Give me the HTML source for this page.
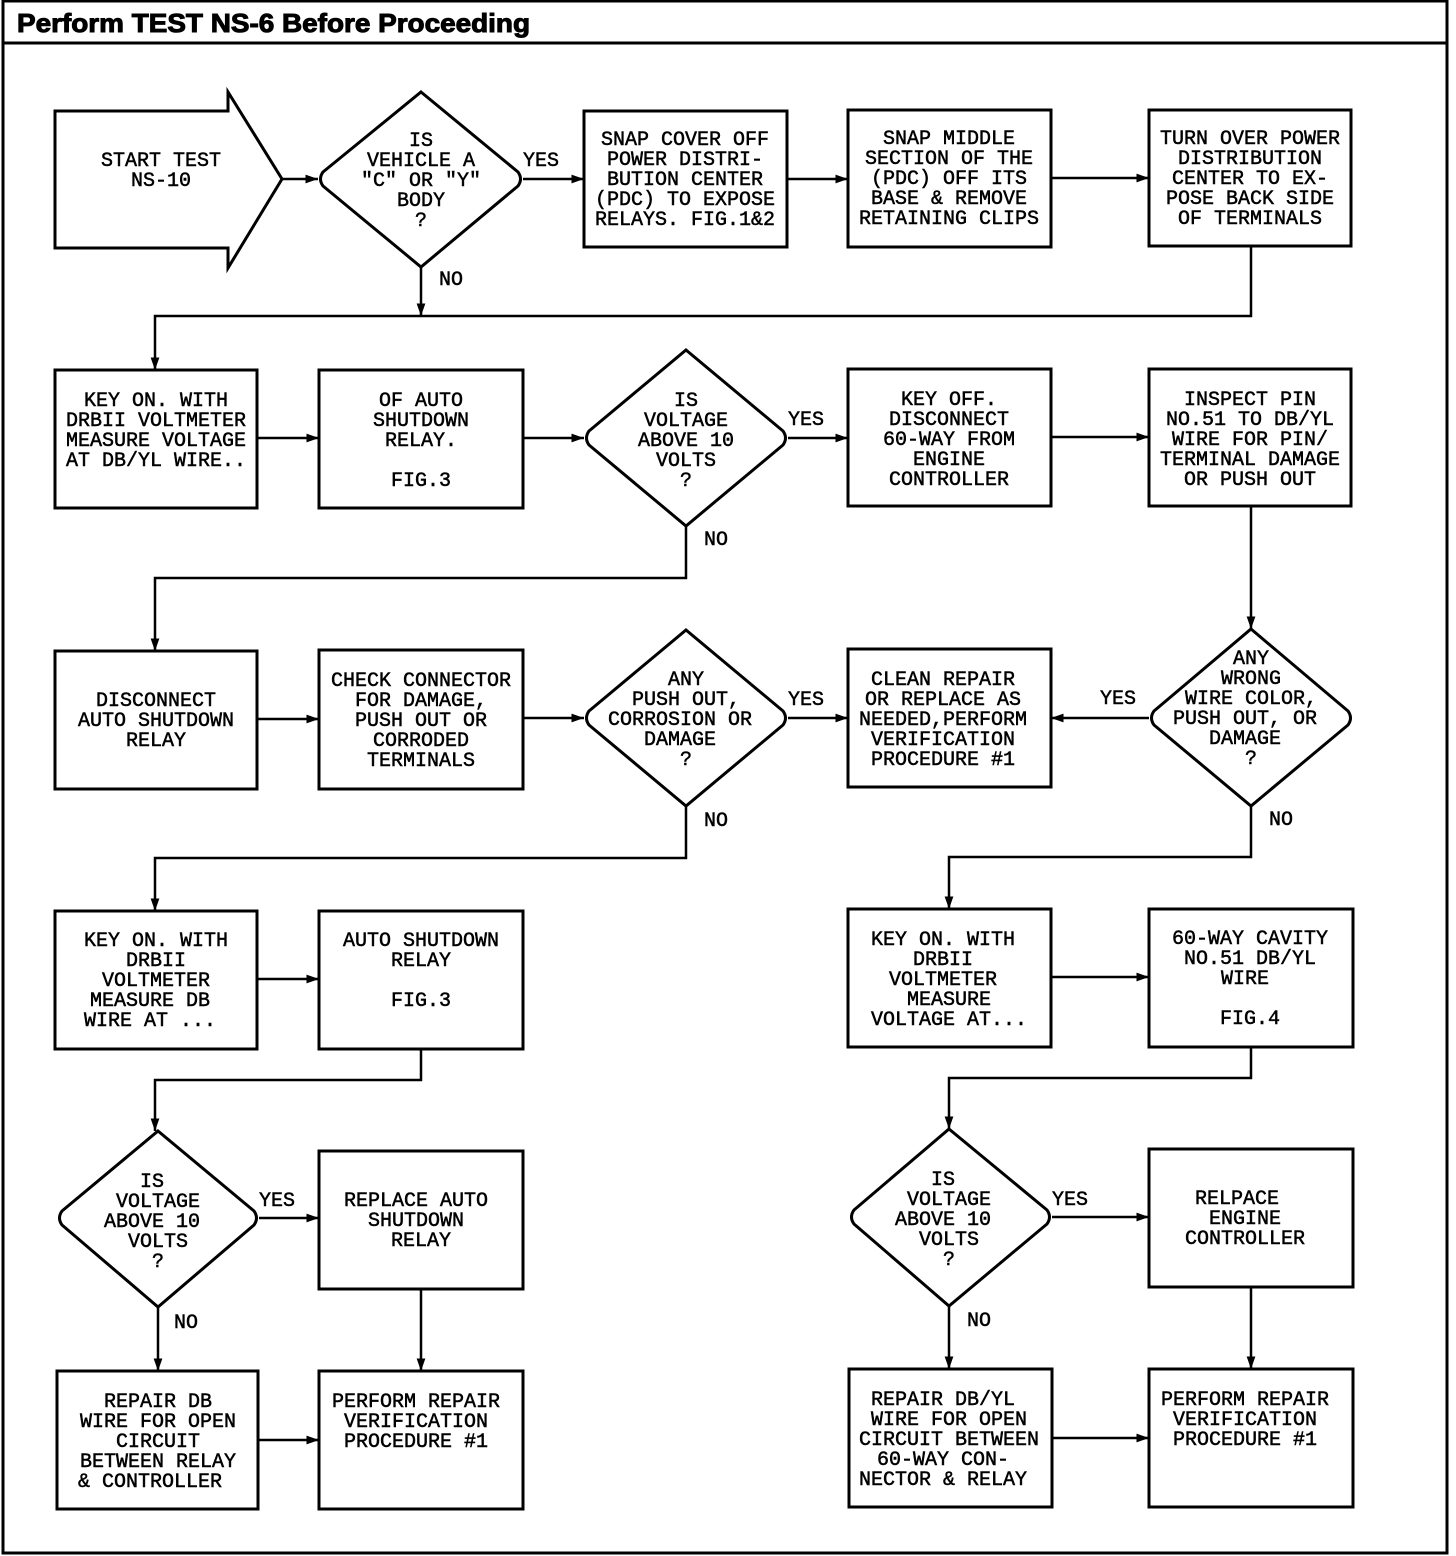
<!DOCTYPE html>
<html><head><meta charset="utf-8"><style>
html,body{margin:0;padding:0;background:#fff}
svg{display:block}
text{font-family:"Liberation Mono",monospace;font-size:20px;fill:#000;text-anchor:middle;stroke:#000;stroke-width:0.5}
.h{font-family:"Liberation Sans",sans-serif;font-weight:bold;font-size:26px;text-anchor:start;stroke:#000;stroke-width:1}
</style></head><body>
<svg width="1456" height="1556" viewBox="0 0 1456 1556" xmlns="http://www.w3.org/2000/svg">
<defs><marker id="a" viewBox="0 0 10 10" refX="10" refY="5" markerWidth="5" markerHeight="5" orient="auto-start-reverse" markerUnits="strokeWidth"><path d="M0,1.5 L10,5 L0,8.5z" fill="#000"/></marker></defs>
<g fill="none" stroke="#000" stroke-width="3">
<rect x="3" y="1" width="1444" height="1552"/>
<line x1="3" y1="43" x2="1447" y2="43"/>
<path d="M55,111 H228 V92 L282,179 L228,268 V248 H55 Z"/>
<path d="M421,92 L518,172 Q523,179 518,186 L421,267 L323,186 Q318,179 323,172 Z"/>
<rect x="584" y="111" width="203" height="136"/>
<rect x="848" y="110" width="203" height="137"/>
<rect x="1149" y="110" width="202" height="136"/>
<rect x="55" y="370" width="202" height="138"/>
<rect x="319" y="370" width="204" height="138"/>
<path d="M686,350 L783,431 Q788,438 783,445 L686,526 L589,445 Q584,438 589,431 Z"/>
<rect x="848" y="369" width="203" height="137"/>
<rect x="1149" y="369" width="202" height="137"/>
<rect x="55" y="651" width="202" height="138"/>
<rect x="319" y="650" width="204" height="139"/>
<path d="M686,630 L783,711 Q788,718 783,725 L686,806 L589,725 Q584,718 589,711 Z"/>
<rect x="848" y="649" width="203" height="138"/>
<path d="M1251,629 L1348,711 Q1353,718 1348,725 L1251,806 L1154,725 Q1149,718 1154,711 Z"/>
<rect x="55" y="911" width="202" height="138"/>
<rect x="319" y="911" width="204" height="138"/>
<rect x="848" y="909" width="203" height="138"/>
<rect x="1149" y="909" width="204" height="138"/>
<path d="M158,1131 L254,1211 Q259,1218 254,1225 L158,1307 L62,1225 Q57,1218 62,1211 Z"/>
<rect x="319" y="1151" width="204" height="138"/>
<path d="M949,1129 L1047,1210 Q1052,1217 1047,1224 L949,1306 L854,1224 Q849,1217 854,1210 Z"/>
<rect x="1149" y="1149" width="204" height="138"/>
<rect x="57" y="1371" width="201" height="138"/>
<rect x="319" y="1371" width="204" height="138"/>
<rect x="849" y="1369" width="203" height="138"/>
<rect x="1149" y="1369" width="204" height="138"/>
</g>
<g fill="none" stroke="#000" stroke-width="2.5" marker-end="url(#a)">
<path d="M282,179 H318"/>
<path d="M523,179 H584"/>
<path d="M787,179 H848"/>
<path d="M1051,178 H1149"/>
<path d="M421,267 V316"/>
<path d="M1251,246 V316 H155 V370"/>
<path d="M257,438 H319"/>
<path d="M523,438 H584"/>
<path d="M788,438 H848"/>
<path d="M1051,437 H1149"/>
<path d="M686,526 V578 H155 V651"/>
<path d="M1251,506 V629"/>
<path d="M257,719 H319"/>
<path d="M523,718 H584"/>
<path d="M788,718 H848"/>
<path d="M1149,718 H1051"/>
<path d="M686,806 V858 H155 V911"/>
<path d="M1251,806 V857 H949 V909"/>
<path d="M257,979 H319"/>
<path d="M1051,977 H1149"/>
<path d="M421,1049 V1080 H155 V1131"/>
<path d="M1251,1047 V1078 H949 V1129"/>
<path d="M259,1218 H319"/>
<path d="M1052,1217 H1149"/>
<path d="M158,1307 V1371"/>
<path d="M421,1289 V1371"/>
<path d="M949,1306 V1369"/>
<path d="M1251,1287 V1369"/>
<path d="M258,1440 H319"/>
<path d="M1052,1438 H1149"/>
</g>
<text class="h" x="17" y="32" textLength="513" lengthAdjust="spacingAndGlyphs">Perform TEST NS-6 Before Proceeding</text>
<g>
<text x="161" y="166">START TEST</text><text x="161" y="186">NS-10</text>
<text x="421" y="146">IS</text><text x="421" y="166">VEHICLE A</text><text x="421" y="186">"C" OR "Y"</text><text x="421" y="206">BODY</text><text x="421" y="226">?</text>
<text x="541" y="166">YES</text><text x="451" y="285">NO</text>
<text x="685" y="145">SNAP COVER OFF</text><text x="685" y="165">POWER DISTRI-</text><text x="685" y="185">BUTION CENTER</text><text x="685" y="205">(PDC) TO EXPOSE</text><text x="685" y="225">RELAYS. FIG.1&amp;2</text>
<text x="949" y="144">SNAP MIDDLE</text><text x="949" y="164">SECTION OF THE</text><text x="949" y="184">(PDC) OFF ITS</text><text x="949" y="204">BASE &amp; REMOVE</text><text x="949" y="224">RETAINING CLIPS</text>
<text x="1250" y="144">TURN OVER POWER</text><text x="1250" y="164">DISTRIBUTION</text><text x="1250" y="184">CENTER TO EX-</text><text x="1250" y="204">POSE BACK SIDE</text><text x="1250" y="224">OF TERMINALS</text>
<text x="156" y="406">KEY ON. WITH</text><text x="156" y="426">DRBII VOLTMETER</text><text x="156" y="446">MEASURE VOLTAGE</text><text x="156" y="466">AT DB/YL WIRE..</text>
<text x="421" y="406">OF AUTO</text><text x="421" y="426">SHUTDOWN</text><text x="421" y="446">RELAY.</text><text x="421" y="486">FIG.3</text>
<text x="686" y="406">IS</text><text x="686" y="426">VOLTAGE</text><text x="686" y="446">ABOVE 10</text><text x="686" y="466">VOLTS</text><text x="686" y="486">?</text>
<text x="806" y="425">YES</text><text x="716" y="545">NO</text>
<text x="949" y="405">KEY OFF.</text><text x="949" y="425">DISCONNECT</text><text x="949" y="445">60-WAY FROM</text><text x="949" y="465">ENGINE</text><text x="949" y="485">CONTROLLER</text>
<text x="1250" y="405">INSPECT PIN</text><text x="1250" y="425">NO.51 TO DB/YL</text><text x="1250" y="445">WIRE FOR PIN/</text><text x="1250" y="465">TERMINAL DAMAGE</text><text x="1250" y="485">OR PUSH OUT</text>
<text x="156" y="706">DISCONNECT</text><text x="156" y="726">AUTO SHUTDOWN</text><text x="156" y="746">RELAY</text>
<text x="421" y="686">CHECK CONNECTOR</text><text x="421" y="706">FOR DAMAGE,</text><text x="421" y="726">PUSH OUT OR</text><text x="421" y="746">CORRODED</text><text x="421" y="766">TERMINALS</text>
<text x="686" y="685">ANY</text><text x="686" y="705">PUSH OUT,</text><text x="680" y="725">CORROSION OR</text><text x="680" y="745">DAMAGE</text><text x="686" y="765">?</text>
<text x="806" y="705">YES</text><text x="716" y="826">NO</text>
<text x="943" y="685">CLEAN REPAIR</text><text x="943" y="705">OR REPLACE AS</text><text x="943" y="725">NEEDED,PERFORM</text><text x="943" y="745">VERIFICATION</text><text x="943" y="765">PROCEDURE #1</text>
<text x="1118" y="704">YES</text>
<text x="1251" y="664">ANY</text><text x="1251" y="684">WRONG</text><text x="1251" y="704">WIRE COLOR,</text><text x="1245" y="724">PUSH OUT, OR</text><text x="1245" y="744">DAMAGE</text><text x="1251" y="764">?</text>
<text x="1281" y="825">NO</text>
<text x="156" y="946">KEY ON. WITH</text><text x="156" y="966">DRBII</text><text x="156" y="986">VOLTMETER</text><text x="150" y="1006">MEASURE DB</text><text x="150" y="1026">WIRE AT ...</text>
<text x="421" y="946">AUTO SHUTDOWN</text><text x="421" y="966">RELAY</text><text x="421" y="1006">FIG.3</text>
<text x="943" y="945">KEY ON. WITH</text><text x="943" y="965">DRBII</text><text x="943" y="985">VOLTMETER</text><text x="949" y="1005">MEASURE</text><text x="949" y="1025">VOLTAGE AT...</text>
<text x="1250" y="944">60-WAY CAVITY</text><text x="1250" y="964">NO.51 DB/YL</text><text x="1245" y="984">WIRE</text><text x="1250" y="1024">FIG.4</text>
<text x="152" y="1187">IS</text><text x="158" y="1207">VOLTAGE</text><text x="152" y="1227">ABOVE 10</text><text x="158" y="1247">VOLTS</text><text x="158" y="1267">?</text>
<text x="277" y="1206">YES</text><text x="186" y="1328">NO</text>
<text x="416" y="1206">REPLACE AUTO</text><text x="416" y="1226">SHUTDOWN</text><text x="421" y="1246">RELAY</text>
<text x="943" y="1185">IS</text><text x="949" y="1205">VOLTAGE</text><text x="943" y="1225">ABOVE 10</text><text x="949" y="1245">VOLTS</text><text x="949" y="1265">?</text>
<text x="1070" y="1205">YES</text><text x="979" y="1326">NO</text>
<text x="1237" y="1204">RELPACE</text><text x="1245" y="1224">ENGINE</text><text x="1245" y="1244">CONTROLLER</text>
<text x="158" y="1407">REPAIR DB</text><text x="158" y="1427">WIRE FOR OPEN</text><text x="158" y="1447">CIRCUIT</text><text x="158" y="1467">BETWEEN RELAY</text><text x="150" y="1487">&amp; CONTROLLER</text>
<text x="416" y="1407">PERFORM REPAIR</text><text x="416" y="1427">VERIFICATION</text><text x="416" y="1447">PROCEDURE #1</text>
<text x="943" y="1405">REPAIR DB/YL</text><text x="949" y="1425">WIRE FOR OPEN</text><text x="949" y="1445">CIRCUIT BETWEEN</text><text x="943" y="1465">60-WAY CON-</text><text x="943" y="1485">NECTOR &amp; RELAY</text>
<text x="1245" y="1405">PERFORM REPAIR</text><text x="1245" y="1425">VERIFICATION</text><text x="1245" y="1445">PROCEDURE #1</text>
</g>
</svg>
</body></html>
